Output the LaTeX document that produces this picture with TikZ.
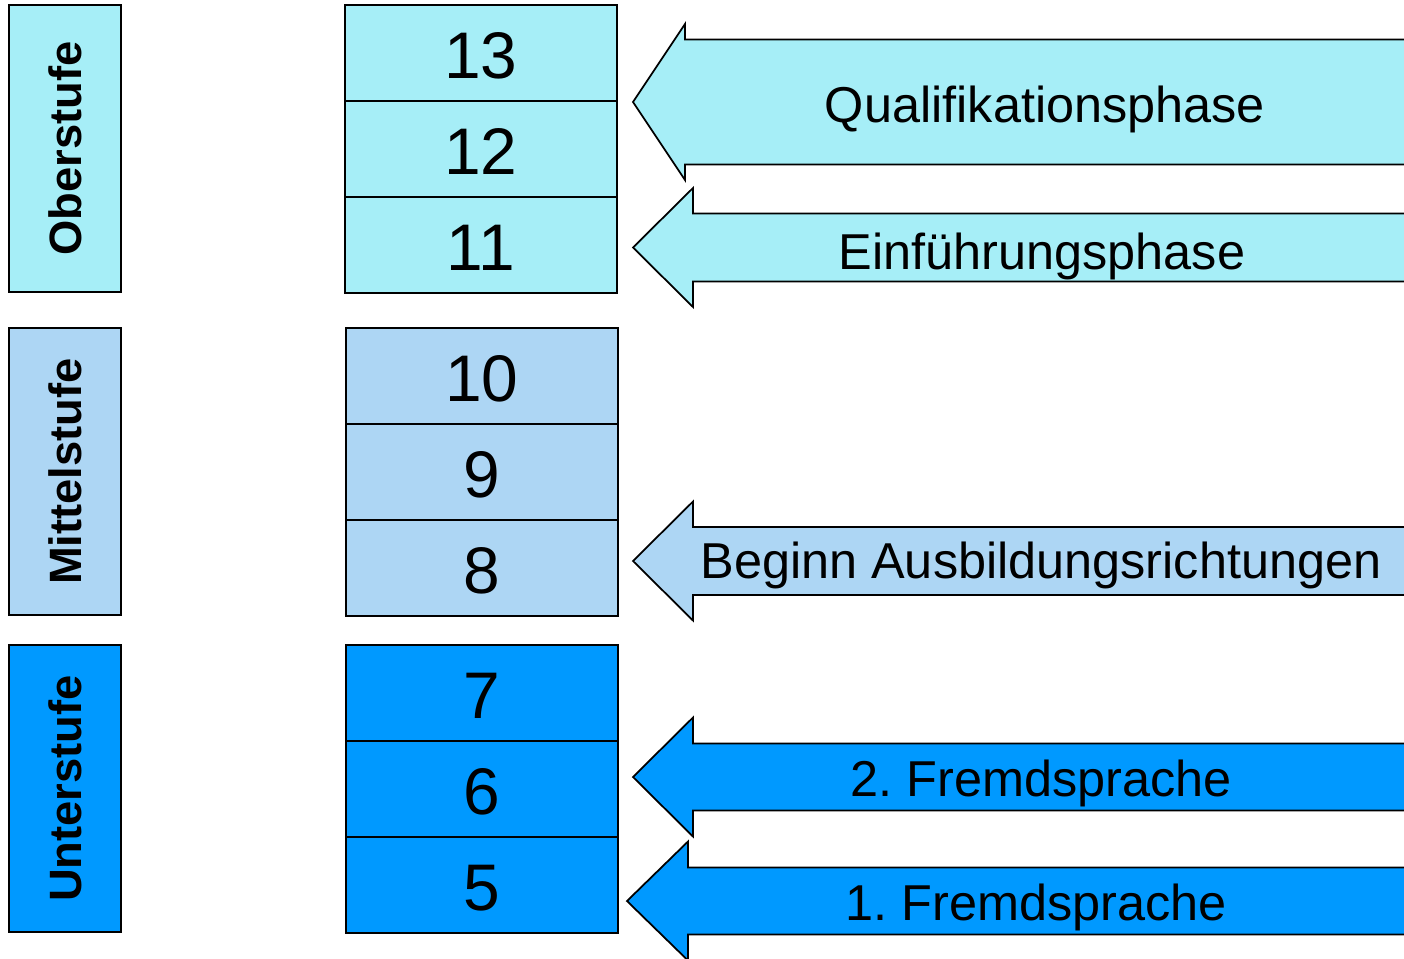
\documentclass[tikz,border=0pt]{standalone}
\usepackage{fontspec}
\setmainfont{Liberation Sans}
\usetikzlibrary{positioning}

\definecolor{oberblau}{RGB}{166,238,247}
\definecolor{mittelblau}{RGB}{173,214,244}
\definecolor{unterblau}{RGB}{0,153,255}

\tikzset{
    stufe/.style={draw, line width=1pt, rotate=90, outer sep=0pt,
        minimum width=5.74cm, minimum height=2.24cm, text depth=0pt,
        font=\bfseries\fontsize{25.8}{28}\selectfont},
    klasse/.style={draw, line width=1pt, outer sep=0pt,
        minimum width=5.44cm, minimum height=1.92cm,
        text height=29pt, text depth=0pt,
        font=\fontsize{37.5}{40}\selectfont},
    phase/.style={anchor=base, font=\frenchspacing\fontsize{28.7}{32}\selectfont}
}

\begin{document}
\begin{tikzpicture}[x=0.02cm, y=-0.02cm]
    \useasboundingbox (0,0) rectangle (1404,958);
    \clip (0,0) rectangle (1404,958);

    % Stufen links
    \node[stufe, fill=oberblau]   (ober)   at (65,148.5) {Oberstufe};
    \node[stufe, fill=mittelblau] (mittel) at (65,471.5) {Mittelstufe};
    \node[stufe, fill=unterblau]  (unter)  at (65,788.5) {Unterstufe};

    % Klassen
    \node[klasse, fill=oberblau] (k13) at (481,53) {13};
    \node[klasse, fill=oberblau, below=0pt of k13] (k12) {12};
    \node[klasse, fill=oberblau, below=0pt of k12] (k11) {11};

    \node[klasse, fill=mittelblau] (k10) at (482,376) {10};
    \node[klasse, fill=mittelblau, below=0pt of k10] (k9) {9};
    \node[klasse, fill=mittelblau, below=0pt of k9] (k8) {8};

    \node[klasse, fill=unterblau] (k7) at (482,693) {7};
    \node[klasse, fill=unterblau, below=0pt of k7] (k6) {6};
    \node[klasse, fill=unterblau, below=0pt of k6] (k5) {5};

    % Pfeile: Spitze x/y, Kopf x, halbe Kopfhoehe, halbe Schafthoehe
    \foreach \tx/\ty/\hx/\hh/\sh/\col in {
        633/102/685/78/62.5/oberblau,
        633/247.5/693/59.5/34/oberblau,
        633/561/693/59.5/34/mittelblau,
        633/777/693/59.5/33.5/unterblau,
        627/901/688/59.5/33.5/unterblau}
    {
        \filldraw[fill=\col, line width=1pt, line join=miter]
            (1420,\ty-\sh) -- (\hx,\ty-\sh) -- (\hx,\ty-\hh) -- (\tx,\ty)
            -- (\hx,\ty+\hh) -- (\hx,\ty+\sh) -- (1420,\ty+\sh);
    }

    % Beschriftung der Pfeile
    \node[phase] (quali)  at (1045,122) {Qualifikationsphase};
    \node[phase] (einf)   at (1042,269) {Einführungsphase};
    \node[phase] (beginn) at (1041,578) {Beginn Ausbildungsrichtungen};
    \node[phase] (fs2)    at (1041,796) {2. Fremdsprache};
    \node[phase] (fs1)    at (1036,920) {1. Fremdsprache};
\end{tikzpicture}
\end{document}
